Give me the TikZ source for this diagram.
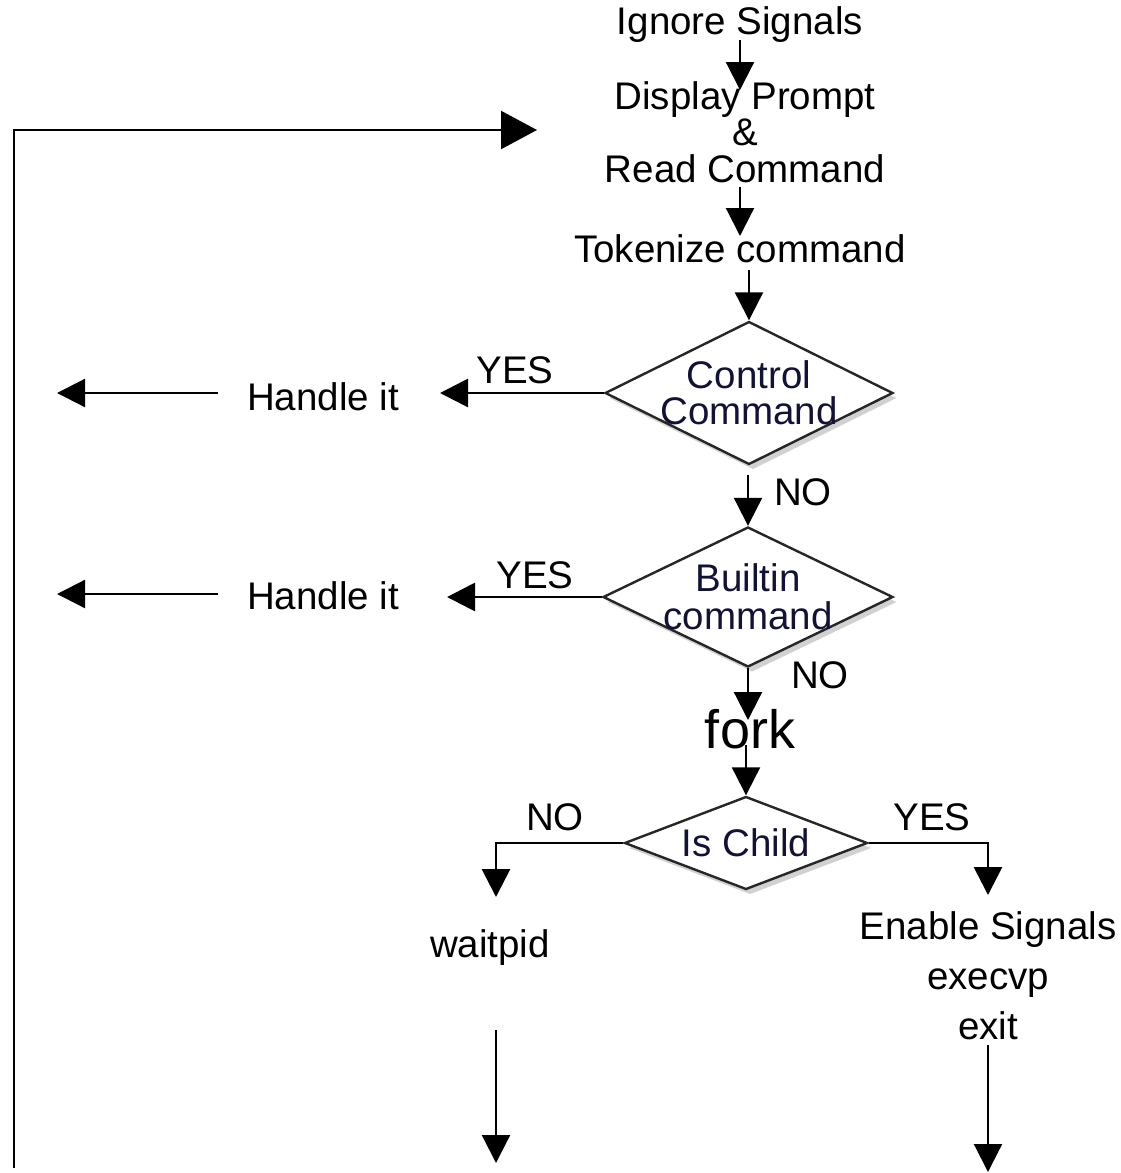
\documentclass[tikz,border=0pt]{standalone}
\usepackage{fontspec}
\setmainfont{Liberation Sans}
\usetikzlibrary{arrows.meta,shapes.geometric,shadows}
\definecolor{diatext}{RGB}{18,18,55}
\tikzset{
  lbl/.style={inner sep=0pt, font=\fontsize{38.5}{46}\selectfont},
  multi/.style={lbl, align=center},
  dtext/.style={inner sep=0pt, align=center, text=diatext},
  dia/.style={diamond, draw=black!85, line width=2.4pt, fill=white, inner sep=0pt,
    drop shadow={shadow xshift=4pt, shadow yshift=-5pt, opacity=0.3, fill=black!60}},
  arr/.style={line width=2.2pt, -{Triangle[length=28pt,width=28pt]}},
  arrbig/.style={line width=2.2pt, -{Triangle[length=36pt,width=38pt]}}
}
\begin{document}
\begin{tikzpicture}[x=1pt,y=-1pt]
\useasboundingbox (0,0) rectangle (1121,1173);

% shapes
\node[dia, minimum width=288pt, minimum height=143pt] (d1) at (749,393) {};
\node[dia, minimum width=290pt, minimum height=140pt] (d2) at (748,597) {};
\node[dia, minimum width=243pt, minimum height=93pt] (d3) at (746,843) {};

% text nodes
\node[lbl] (ig) at (740,25) {Ignore Signals};
\node[multi, font=\fontsize{38.5}{36.5}\selectfont] (dp) at (745,132) {Display Prompt\\\&\\Read Command};
\node[lbl] (tok) at (740,249) {Tokenize command};
\node[dtext, font=\fontsize{38.5}{36}\selectfont] (d1t) at (d1.center) {Control\\Command};
\node[lbl] (yes1) at (515,370) {YES};
\node[lbl] (h1) at (323,397) {Handle it};
\node[lbl] (no1) at (803,492) {NO};
\node[dtext, font=\fontsize{38.5}{38}\selectfont] (d2t) at (d2.center) {Builtin\\command};
\node[lbl] (yes2) at (535,575) {YES};
\node[lbl] (h2) at (323,596) {Handle it};
\node[lbl] (no2) at (820,675) {NO};
\node[inner sep=0pt, font=\fontsize{54}{60}\selectfont] (fork) at (750,729) {fork};
\node[dtext, font=\fontsize{38.5}{46}\selectfont] (d3t) at (d3.center) {Is Child};
\node[lbl] (no3) at (555,817) {NO};
\node[lbl] (yes3) at (932,817) {YES};
\node[lbl] (wait) at (490,948) {waitpid};
\node[multi, font=\fontsize{38.5}{50}\selectfont] (en) at (988,976) {Enable Signals\\execvp\\exit};

% connector end points
\coordinate (a1s) at (740,40);   \coordinate (a1e) at (740,90);
\coordinate (a2s) at (740,187);  \coordinate (a2e) at (740,236);
\coordinate (a3s) at (749,270);
\coordinate (y1e) at (440,393);
\coordinate (h1s) at (218,393);  \coordinate (h1e) at (57,393);
\coordinate (n1s) at (748,475);
\coordinate (y2e) at (447,597);
\coordinate (h2s) at (218,594);  \coordinate (h2e) at (57,594);
\coordinate (n2e) at (748,720);
\coordinate (f1s) at (746,745);
\coordinate (lc) at (496,843);   \coordinate (le) at (496,897);
\coordinate (rc) at (988,843);   \coordinate (re) at (988,895);
\coordinate (ws) at (496,1030);  \coordinate (we) at (496,1163);
\coordinate (es) at (988,1045);  \coordinate (ee) at (988,1172);
\coordinate (lb) at (14,1168);   \coordinate (lt) at (14,130);
\coordinate (le2) at (537,130);

% connectors
\draw[arr] (a1s) -- (a1e);
\draw[arr] (a2s) -- (a2e);
\draw[arr] (a3s) -- (d1.north);
\draw[arr, line width=2.8pt] (d1.west) -- (y1e);
\draw[arr] (h1s) -- (h1e);
\draw[arr] (n1s) -- (d2.north);
\draw[arr, line width=2.8pt] (d2.west) -- (y2e);
\draw[arr] (h2s) -- (h2e);
\draw[arr] (d2.south) -- (n2e);
\draw[arr] (f1s) -- (d3.north);
\draw[arr, line width=2.8pt] (d3.west) -- (lc) -- (le);
\draw[arr, line width=2.8pt] (d3.east) -- (rc) -- (re);
\draw[arr] (ws) -- (we);
\draw[arr] (es) -- (ee);
\draw[arrbig] (lb) -- (lt) -- (le2);
\end{tikzpicture}
\end{document}
